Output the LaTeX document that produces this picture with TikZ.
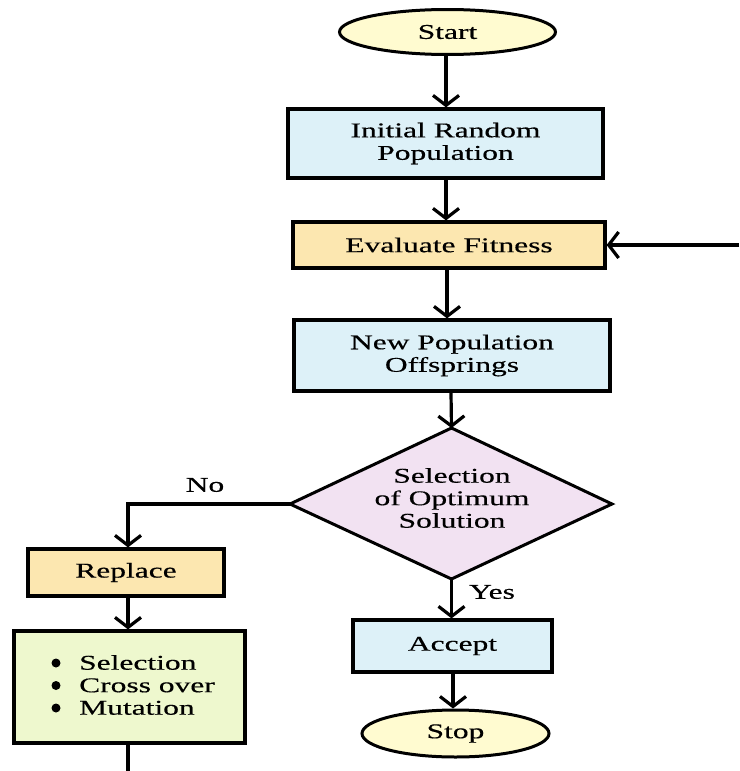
\documentclass[tikz,border=0pt]{standalone}
\usepackage{fontspec}
\setmainfont{Liberation Serif}[FakeStretch=1.5, FakeBold=0.4]
\usetikzlibrary{shapes.geometric,arrows.meta}
\definecolor{cyel}{HTML}{FFFBD0}
\definecolor{cblu}{HTML}{DDF1F8}
\definecolor{corg}{HTML}{FCE7B0}
\definecolor{clav}{HTML}{F2E2F2}
\definecolor{cgrn}{HTML}{EEF8CE}
\begin{document}
\begin{tikzpicture}[x=1pt,y=-1pt,
  every node/.style={font=\fontsize{21}{22.5}\selectfont, text=black},
  box/.style={draw=black, line width=3.2pt, rectangle, inner sep=0pt, align=center},
  oval/.style={draw=black, line width=3pt, ellipse, inner sep=0pt, fill=cyel},
  conn/.style={line width=3.2pt, -{Straight Barb[length=10pt,width=26pt]}},
  plain/.style={line width=3.2pt},
  bul/.style={fill=black}]
\useasboundingbox (0,0) rectangle (739,771);
\fill[white] (0,0) rectangle (739,771);

\node[oval, minimum width=216, minimum height=45] (start) at (447.5,32) {Start};
\node[box, fill=cblu, minimum width=315, minimum height=69] (init) at (445.5,143.5) {Initial Random\\Population};
\node[box, fill=corg, minimum width=312, minimum height=46] (eval) at (449,245) {Evaluate Fitness};
\node[box, fill=cblu, minimum width=316, minimum height=71] (newpop) at (452,355.5) {New Population\\Offsprings};

\coordinate (dT) at (451.5,428);
\coordinate (dB) at (451.5,579);
\coordinate (dL) at (290,504);
\coordinate (dR) at (612,504);
\draw[fill=clav, line width=3pt, line join=miter] (dT) -- (dR) -- (dB) -- (dL) -- cycle;
\node[align=center] (dtext) at (452,498) {Selection\\of Optimum\\Solution};

\node[box, fill=cgrn, minimum width=231, minimum height=112] (ops) at (129.5,687) {};
\node[box, fill=corg, minimum width=196, minimum height=47] (replace) at (126,572.5) {Replace};
\node[anchor=west, align=left, inner sep=0pt] (opstext) at (79,685) {Selection\\Cross over\\Mutation};
\fill[bul] (56,663) circle (4.5);
\fill[bul] (56,685.5) circle (4.5);
\fill[bul] (56,708) circle (4.5);

\node[box, fill=cblu, minimum width=199, minimum height=52] (accept) at (452.5,646) {Accept};
\node[oval, minimum width=187, minimum height=47] (stop) at (455.5,733.5) {Stop};

\coordinate (inR) at (739,245);
\coordinate (noC) at (128,504);
\coordinate (botL) at (128,771);

\draw[conn] (start.south -| 446,0) -- (446,0 |- init.north);
\draw[conn] (init.south -| 446,0) -- (446,0 |- eval.north);
\draw[conn] (eval.south -| 447,0) -- (447,0 |- newpop.north);
\draw[conn] (newpop.south -| 451,0) -- (dT);
\draw[conn] (inR) -- (eval.east);
\draw[conn] (dL) -- (noC) -- (128,0 |- replace.north);
\draw[conn] (128,0 |- replace.south) -- (128,0 |- ops.north);
\draw[plain] (128,0 |- ops.south) -- (botL);
\draw[conn] (dB) -- (451.5,0 |- accept.north);
\draw[conn] (453,0 |- accept.south) -- (453,0 |- stop.north);

\node (nolab) at (205,485) {No};
\node (yeslab) at (492,592) {Yes};
\end{tikzpicture}
\end{document}
